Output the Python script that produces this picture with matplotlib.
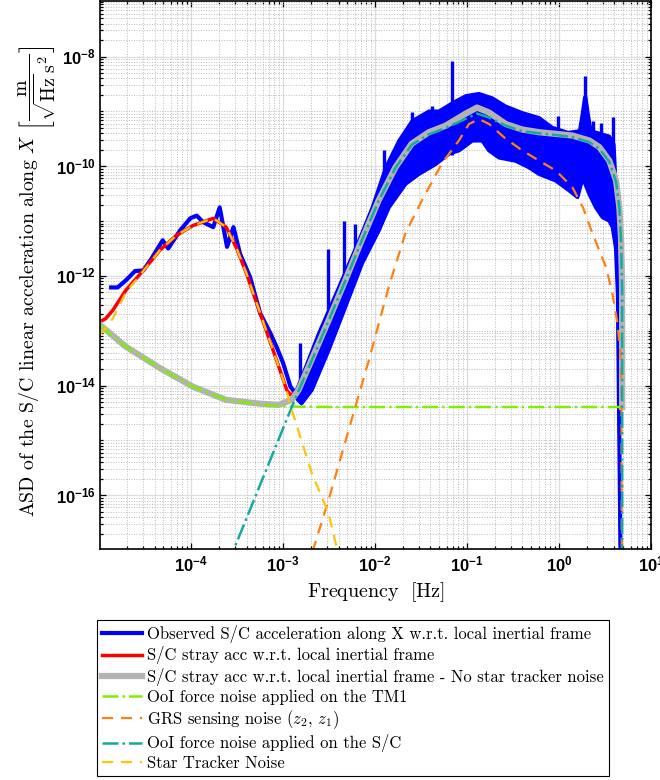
import numpy as np
import matplotlib
matplotlib.use('Agg')
import matplotlib.pyplot as plt
from matplotlib.ticker import LogLocator, FixedLocator, FuncFormatter, NullFormatter

plt.rcParams['mathtext.fontset'] = 'custom'
plt.rcParams['mathtext.bf'] = 'Liberation Sans:bold'
plt.rcParams['mathtext.rm'] = 'Liberation Sans'

# all values are log10(frequency [Hz]) and log10(ASD)

# observed S/C acceleration: low frequency part + lower edge of the noisy band + drop at Nyquist
blue_lf = [-4.87, -4.80, -4.71, -4.61, -4.52, -4.43, -4.31, -4.25, -4.12, -4.01, -3.94, -3.87,
           -3.76, -3.69, -3.61, -3.54, -3.47, -3.36, -3.29, -3.25, -3.14, -3.07, -3.00, -2.92, -2.87]
blue_ly = [-12.21, -12.21, -12.08, -11.91, -11.90, -11.68, -11.35, -11.50, -11.17, -10.95, -10.90, -11.02,
           -11.11, -10.75, -11.47, -11.11, -11.59, -12.02, -12.44, -12.68, -13.04, -13.30, -13.59, -14.02, -14.13]
band_up_lf = [-2.87, -2.80, -2.615, -2.397, -2.179, -2.034, -1.888, -1.743, -1.60, -1.416, -1.306, -1.16,
              -1.015, -0.87, -0.725, -0.579, -0.398, -0.216, -0.07, 0.10, 0.22, 0.25, 0.275, 0.295, 0.32,
              0.35, 0.45, 0.55, 0.60, 0.62, 0.64]
band_up_ly = [-14.13, -13.84, -13.04, -12.20, -11.35, -10.75, -10.02, -9.53, -9.17, -8.99, -8.99, -8.84,
              -8.71, -8.67, -8.75, -8.90, -9.02, -9.11, -9.29, -9.38, -9.35, -9.05, -8.75, -8.75, -9.05,
              -9.35, -9.40, -9.45, -9.60, -10.26, -12.32]
band_lo_lf = [-2.87, -2.80, -2.69, -2.506, -2.324, -2.143, -1.961, -1.852, -1.67, -1.525, -1.343, -1.197,
              -1.088, -0.943, -0.834, -0.761, -0.652, -0.47, -0.325, -0.216, -0.034, 0.111, 0.20, 0.257,
              0.329, 0.402, 0.475, 0.547, 0.584, 0.62, 0.64, 0.686]
band_lo_ly = [-14.20, -14.32, -14.08, -13.35, -12.56, -11.77, -11.17, -10.75, -10.32, -10.14, -9.96, -9.77,
              -9.71, -9.53, -9.53, -9.71, -9.84, -9.90, -10.02, -10.14, -10.26, -10.44, -10.56, -10.20,
              -10.50, -10.75, -10.93, -10.99, -11.11, -11.50, -12.32, -20.0]
spike_lf = [-2.815, -2.513, -2.342, -2.215, -1.906, -1.597, -1.38, -1.168, -0.016, 0.285, 0.366, 0.456, 0.584]
spike_base = [-14.2, -13.3, -12.5, -12.1, -10.9, -10.1, -9.9, -9.8, -10.2, -10.3, -10.6, -10.9, -11.1]
spike_top = [-13.23, -11.50, -10.99, -11.05, -9.71, -9.02, -8.90, -8.08, -9.08, -8.35, -9.17, -9.22, -9.11]

# S/C stray acceleration w.r.t. local inertial frame
red_lf = [-5.0, -4.93, -4.85, -4.71, -4.52, -4.34, -4.16, -3.98, -3.76, -3.62, -3.51, -3.40, -3.25,
          -3.11, -2.96, -2.92, -2.833, -2.691]
red_ly = [-12.84, -12.78, -12.62, -12.26, -11.90, -11.53, -11.26, -11.08, -10.95, -11.11, -11.48, -11.95,
          -12.68, -13.35, -14.08, -14.17, -14.10, -13.53]

# same without star tracker noise
gray_lf = [-5.0, -4.71, -4.34, -3.98, -3.62, -3.25, -3.05, -2.906, -2.833, -2.691, -2.506, -2.324, -2.146,
           -1.961, -1.779, -1.603, -1.416, -1.233, -1.015, -0.892, -0.761, -0.579, -0.401, -0.216, -0.034,
           0.144, 0.329, 0.438, 0.547, 0.620, 0.656, 0.675, 0.686, 0.686]
gray_ly = [-12.88, -13.29, -13.68, -14.02, -14.26, -14.33, -14.35, -14.26, -14.08, -13.53, -12.81, -12.08,
           -11.35, -10.62, -10.02, -9.59, -9.38, -9.26, -9.04, -8.93, -9.02, -9.23, -9.33, -9.38, -9.41,
           -9.44, -9.53, -9.65, -9.90, -10.26, -10.75, -11.35, -12.20, -14.39]

# OoI force noise on TM1
green_lf = [-5.0, -4.71, -4.34, -3.98, -3.62, -3.25, -2.96, -2.5, 0.686]
green_ly = [-12.90, -13.29, -13.68, -14.02, -14.26, -14.35, -14.38, -14.39, -14.39]

# GRS sensing noise
orange_lf = [-2.75, -2.670, -2.495, -2.255, -2.070, -1.852, -1.67, -1.49, -1.274, -1.088, -0.979, -0.870,
             -0.761, -0.579, -0.401, -0.216, -0.034, 0.144, 0.260, 0.362, 0.511, 0.580, 0.635, 0.664,
             0.678, 0.686]
orange_ly = [-18.4, -16.97, -16.02, -14.62, -13.55, -12.20, -11.22, -10.62, -9.95, -9.53, -9.23, -9.14,
             -9.23, -9.50, -9.71, -9.90, -10.08, -10.38, -10.75, -11.22, -11.84, -12.32, -12.86, -13.35,
             -13.95, -20.0]

# OoI force noise on the S/C
teal_lf = [-3.60, -2.906, -2.833, -2.691, -2.506, -2.324, -2.146, -1.961, -1.779, -1.603, -1.416, -1.306,
           -1.124, -0.892, -0.761, -0.579, -0.401, -0.216, -0.034, 0.144, 0.329, 0.438, 0.547, 0.620,
           0.656, 0.675, 0.686, 0.686]
teal_ly = [-17.25, -14.39, -14.10, -13.55, -12.82, -12.09, -11.36, -10.63, -10.03, -9.61, -9.42, -9.35,
           -9.22, -9.04, -9.11, -9.26, -9.36, -9.40, -9.43, -9.47, -9.56, -9.68, -9.92, -10.28, -10.77,
           -11.39, -12.26, -20.0]

# star tracker noise
yellow_lf = [-5.0, -4.93, -4.85, -4.71, -4.52, -4.34, -4.16, -3.98, -3.76, -3.62, -3.51, -3.40, -3.25,
             -3.11, -2.96, -2.94, -2.69, -2.51, -2.42, -2.35]
yellow_ly = [-13.08, -12.95, -12.77, -12.30, -11.91, -11.53, -11.26, -11.08, -10.95, -11.11, -11.48, -11.95,
             -12.68, -13.35, -14.09, -14.26, -15.59, -16.31, -16.93, -17.4]

labels = ['Observed S/C acceleration along X w.r.t. local inertial frame',
          'S/C stray acc w.r.t. local inertial frame',
          'S/C stray acc w.r.t. local inertial frame - No star tracker noise',
          'OoI force noise applied on the TM1',
          r'GRS sensing noise $(z_2,\, z_1)$',
          'OoI force noise applied on the S/C',
          'Star Tracker Noise']


def p(a):
    return 10.0 ** np.asarray(a)


fig = plt.figure(figsize=(6.6, 7.8), dpi=100)
ax = fig.add_axes([100 / 660, 1 - 549 / 780, 551 / 660, 548 / 780])
ax.set_xscale('log')
ax.set_yscale('log')

blue = '#0000ff'
h_blue, = ax.plot(p(blue_lf + band_lo_lf), p(blue_ly + band_lo_ly), color=blue, lw=3.0, label=labels[0])
ax.fill(p(band_up_lf + band_lo_lf[::-1]), p(band_up_ly + band_lo_ly[::-1]),
        facecolor=blue, edgecolor=blue, lw=2.0)
ax.vlines(p(spike_lf), p(spike_base), p(spike_top), color=blue, lw=2.4)

h_red, = ax.plot(p(red_lf), p(red_ly), color='#ff0000', lw=2.5, label=labels[1])
h_gray, = ax.plot(p(gray_lf), p(gray_ly), color='#b3b3b3', lw=4.5, label=labels[2])
h_green, = ax.plot(p(green_lf), p(green_ly), color='#80ee00', lw=1.8, ls='-.', label=labels[3])
h_orange, = ax.plot(p(orange_lf), p(orange_ly), color='#ff8010', lw=1.6, ls=(0, (5, 3.5)), label=labels[4])
h_teal, = ax.plot(p(teal_lf), p(teal_ly), color='#14aaa0', lw=1.8, ls='-.', label=labels[5])
h_yellow, = ax.plot(p(yellow_lf), p(yellow_ly), color='#ffc20e', lw=1.6, ls=(0, (5, 3.5)), label=labels[6])

ax.set_xlim(1.02e-5, 10)
ax.set_ylim(1.05e-17, 1.03e-7)

ax.xaxis.set_major_locator(FixedLocator([1e-4, 1e-3, 1e-2, 1e-1, 1e0, 1e1]))
ax.xaxis.set_minor_locator(LogLocator(base=10, subs=np.arange(2, 10), numticks=20))
ax.yaxis.set_major_locator(FixedLocator([1e-16, 1e-14, 1e-12, 1e-10, 1e-8]))
ax.yaxis.set_minor_locator(LogLocator(base=10, subs=np.arange(1, 10), numticks=30))
fmt = FuncFormatter(lambda v, pos: r'$\mathbf{10^{%d}}$' % int(round(np.log10(v))))
ax.xaxis.set_major_formatter(fmt)
ax.yaxis.set_major_formatter(fmt)
ax.xaxis.set_minor_formatter(NullFormatter())
ax.yaxis.set_minor_formatter(NullFormatter())
ax.tick_params(which='both', direction='in', top=True, right=True, labelsize=12, width=0.9)
ax.tick_params(which='major', length=4.5)
ax.tick_params(which='minor', length=2.5)
ax.tick_params(axis='x', pad=5)
ax.tick_params(axis='y', pad=3)

ax.set_axisbelow(True)
ax.grid(True, which='major', color='#dddddd', lw=0.9, ls='-')
ax.grid(True, which='minor', color='#bbbbbb', lw=0.7, ls=':')
for s in ax.spines.values():
    s.set_linewidth(1.2)

ax.set_xlabel(r'Frequency $\;[\mathrm{Hz}]$', family='cmr10', fontsize=14.5, math_fontfamily='cm',
              labelpad=3)
ax.set_ylabel(r'ASD of the S/C linear acceleration along $X$ '
              r'$\left[\dfrac{\mathrm{m}}{\sqrt{\mathrm{Hz}}\,\mathrm{s}^2}\right]$',
              family='cmr10', fontsize=14.3, math_fontfamily='cm')
ax.yaxis.set_label_coords(-0.077, 0.488)

leg = fig.legend([h_blue, h_red, h_gray, h_green, h_orange, h_teal, h_yellow], labels,
                 loc='lower left', bbox_to_anchor=(97 / 660, 4 / 780), borderaxespad=0,
                 frameon=True, fancybox=False, edgecolor='black', framealpha=1,
                 prop={'family': 'cmr10', 'size': 12}, handlelength=2.4, handletextpad=0.3,
                 labelspacing=0.2, borderpad=0.3)
leg.get_frame().set_linewidth(0.8)
for t in leg.get_texts():
    t.set_math_fontfamily('cm')

fig.savefig('out.png', dpi=100)
